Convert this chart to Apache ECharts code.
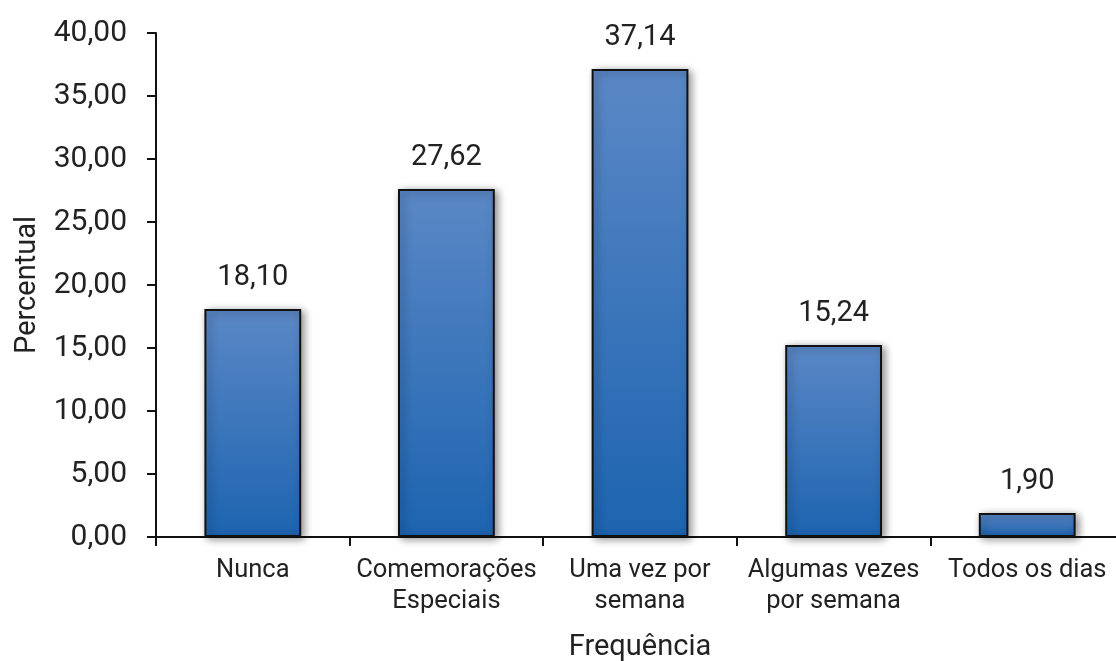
<!DOCTYPE html>
<html lang="pt-br">
<head>
<meta charset="utf-8">
<title>Frequência</title>
<script src="https://cdn.jsdelivr.net/npm/echarts@6/dist/echarts.min.js"></script>
<style>
  html, body { margin: 0; padding: 0; background: #fff; }
  #chart { width: 1116px; height: 661px; }
</style>
</head>
<body>
<div id="chart"></div>
<script>
  // dados
  var categorias = ['Nunca', 'Comemorações\nEspeciais', 'Uma vez por\nsemana', 'Algumas vezes\npor semana', 'Todos os dias'];
  var percentual = [18.10, 27.62, 37.14, 15.24, 1.90];
  var yMin = 0, yMax = 40, yStep = 5;

  function virgula(v) {
    return v.toFixed(2).replace('.', ',');
  }

  var myChart = echarts.init(document.getElementById('chart'));
  var option = {
    animation: false,
    textStyle: { fontFamily: 'Roboto' },
    grid: { left: 156, right: -8, top: 33, bottom: 124, containLabel: false, outerBoundsMode: 'none' },
    xAxis: {
      type: 'category',
      data: categorias,
      name: 'Frequência',
      nameLocation: 'middle',
      nameGap: 96,
      nameTextStyle: { fontSize: 29, color: '#222' },
      axisLine: { lineStyle: { color: '#111', width: 2 } },
      axisTick: { show: true, length: 9, lineStyle: { color: '#111', width: 2 } },
      axisLabel: { fontSize: 25.5, color: '#222', margin: 18, lineHeight: 31, interval: 0 }
    },
    yAxis: {
      type: 'value',
      min: yMin,
      max: yMax,
      interval: yStep,
      name: 'Percentual',
      nameLocation: 'middle',
      nameGap: 114,
      nameTextStyle: { fontSize: 29, color: '#222' },
      splitLine: { show: false },
      axisLine: { show: true, lineStyle: { color: '#111', width: 2 } },
      axisTick: { show: true, length: 9, lineStyle: { color: '#111', width: 2 } },
      axisLabel: { fontSize: 30, color: '#222', margin: 29, formatter: virgula }
    },
    series: [{
      type: 'bar',
      data: percentual,
      barWidth: '50%',
      itemStyle: {
        color: new echarts.graphic.LinearGradient(0, 0, 0, 1, [
          { offset: 0, color: '#5b88c6' },
          { offset: 1, color: '#1d64b0' }
        ]),
        borderColor: '#111',
        borderWidth: 2,
        shadowBlur: 8,
        shadowOffsetX: 3,
        shadowOffsetY: 2,
        shadowColor: 'rgba(0,0,0,0.45)'
      },
      label: {
        show: true,
        position: 'top',
        distance: 17,
        fontSize: 29,
        color: '#222',
        formatter: function (p) { return virgula(p.value); }
      }
    }]
  };
  myChart.setOption(option);
</script>
</body>
</html>
